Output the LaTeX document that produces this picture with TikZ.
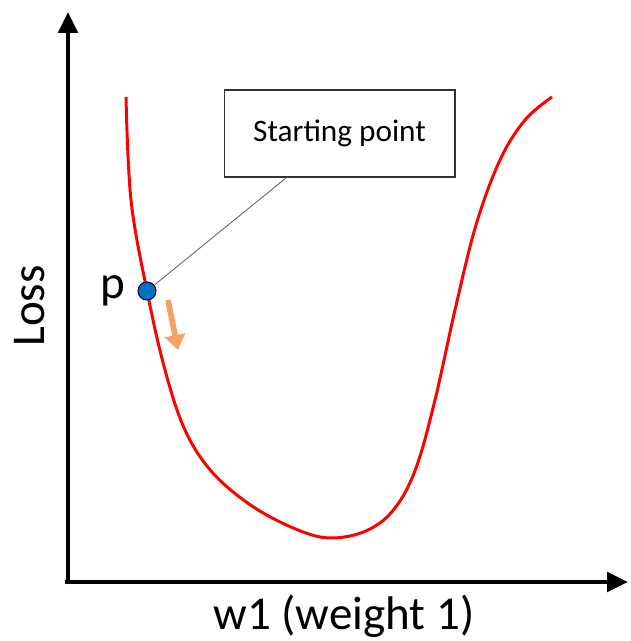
\documentclass[tikz,border=0pt]{standalone}
\usepackage{fontspec}
\setmainfont{Carlito}
\usetikzlibrary{arrows.meta, positioning, calc}

\begin{document}
\begin{tikzpicture}[
  x=0.02cm, y=-0.02cm,
  axis/.style={-{Triangle[length=0.42cm, width=0.38cm]}, line width=2.8pt, black},
  loss/.style={red, line width=1.7pt},
  pt/.style={circle, draw=black!70!blue, fill={rgb,255:red,0;green,112;blue,192}, line width=0.6pt, minimum size=0.36cm, inner sep=0pt},
  callout/.style={draw=black!80, line width=0.6pt, fill=white, minimum width=4.62cm, minimum height=1.74cm, font=\fontsize{17.8}{20}\selectfont},
  bigtxt/.style={font=\fontsize{26.8}{30}\selectfont},
  step arrow/.style={-{Triangle[length=0.3cm, width=0.4cm]}, line width=3.2pt, color={rgb,255:red,244;green,164;blue,96}}
]
\useasboundingbox (0,0) rectangle (630,641);
\coordinate (origin) at (68,582);
\coordinate (ytop) at (68,12);
\coordinate (xend) at (628,582);
\draw[axis] ($(origin)+(0,2)$) -- (ytop);
\draw[axis] ($(origin)+(-3,0)$) -- (xend);

% loss curve
\draw[loss] plot[smooth, tension=0.6] coordinates {
  (126,97) (131,200) (147,291) (165,370) (185,430) (212,472) (252,506)
  (298,530) (332,538) (368,530) (395,508) (416,468) (435,400)
  (455,310) (476,225) (500,160) (525,120) (552,97)};

\node[pt] (p) at (147,291) {};
\node[bigtxt, left=0.12cm of p] (plabel) {p};
\node[callout] (start) at (339.5,133.5) {Starting point};
\draw[black!60, line width=0.5pt] (start.south) ++(-53,0) coordinate (lead) -- (p);

\coordinate (mv0) at (168,300);
\coordinate (mv1) at (178,350);
\draw[step arrow] (mv0) -- (mv1);

\node[bigtxt, rotate=90] (ylab) at (30,306) {Loss};
\node[bigtxt] (xlab) at (344,616) {w1 (weight 1)};
\end{tikzpicture}
\end{document}
